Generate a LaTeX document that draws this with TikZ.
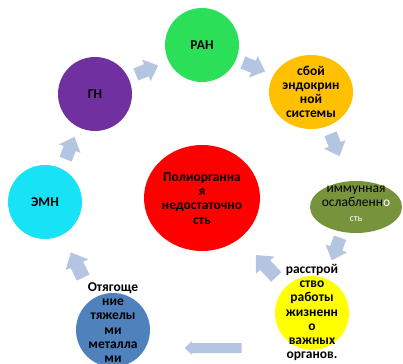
\documentclass[tikz,border=0pt]{standalone}
\usepackage{fontspec}
\setmainfont{Carlito}
\definecolor{cgreen}{RGB}{43,224,88}
\definecolor{corange}{RGB}{255,192,0}
\definecolor{cred}{RGB}{255,0,0}
\definecolor{colive}{RGB}{119,147,60}
\definecolor{cyellow}{RGB}{255,255,0}
\definecolor{cblue}{RGB}{79,129,189}
\definecolor{ccyan}{RGB}{24,226,245}
\definecolor{cpurple}{RGB}{112,48,160}
\definecolor{carrow}{RGB}{180,197,226}
\newcommand{\blockarr}[7]{% name, x, y, angle, length, head width, shaft width
  \begin{scope}[shift={(#2,#3)},rotate=#4]
    \fill[carrow] (-#5/2,-#7/2) -- (#5/2-#6*0.55,-#7/2) -- (#5/2-#6*0.55,-#6/2)
      -- (#5/2,0) -- (#5/2-#6*0.55,#6/2) -- (#5/2-#6*0.55,#7/2) -- (-#5/2,#7/2) -- cycle;
    \coordinate (#1) at (0,0);
  \end{scope}}
\begin{document}
\begin{tikzpicture}[x=1pt,y=-1pt,
  bubble/.style={ellipse,inner sep=0pt},
  lbl/.style={align=center,font=\fontsize{13.5}{14.2}\selectfont\bfseries,text=black,inner sep=0pt}]
\useasboundingbox (0,0) rectangle (403,363);
% bubbles
\fill[cgreen] (202,45) ellipse [x radius=37,y radius=37];
\fill[corange] (311,92) ellipse [x radius=42,y radius=37];
\fill[cred] (202,198) ellipse [x radius=58,y radius=53];
\fill[colive] (356,207) ellipse [x radius=46,y radius=26];
\fill[cyellow] (312,313) ellipse [x radius=37,y radius=37];
\fill[cblue] (113,330) ellipse [x radius=37,y radius=37];
\fill[ccyan] (45,202) ellipse [x radius=37,y radius=37];
\fill[cpurple] (95,94) ellipse [x radius=37,y radius=37];
% labels
\node[lbl] (ran) at (202,45) {РАН};
\node[lbl] (sboi) at (311,92) {сбой\\эндокрин\\ной\\системы};
\node[lbl] (poly) at (202,198.5) {Полиорганна\\я\\недостаточно\\сть};
\node[align=center,inner sep=0pt,font=\fontsize{13.5}{14.2}\selectfont] (imm) at (356,204)
  {иммунная\\ослабленн\textcolor{white}{о}\\[1pt]\textcolor{white}{\fontsize{10}{11}\selectfont сть}};
\node[lbl] (rasst) at (312,312.5) {расстрой\\ство\\работы\\жизненн\\о\\важных\\органов.};
\node[lbl] (otyag) at (113,322.5) {Отягоще\\ние\\тяжелы\\ми\\металла\\ми};
\node[lbl] (emn) at (45,202) {ЭМН};
\node[lbl] (gn) at (95,94) {ГН};
% arrows
\blockarr{a1}{147}{70}{22}{24}{23}{13}
\blockarr{a2}{254}{67}{-22}{24}{23}{13}
\blockarr{a3}{335}{145}{-68}{24}{23}{13}
\blockarr{a4}{336}{249}{-110}{24}{23}{13}
\blockarr{a5}{266}{266}{133}{30}{25}{14}
\blockarr{a6}{213}{348}{180}{57}{14}{10}
\blockarr{a7}{77}{265}{116}{28}{25}{14}
\blockarr{a8}{70}{148}{68}{24}{23}{13}
\end{tikzpicture}
\end{document}
